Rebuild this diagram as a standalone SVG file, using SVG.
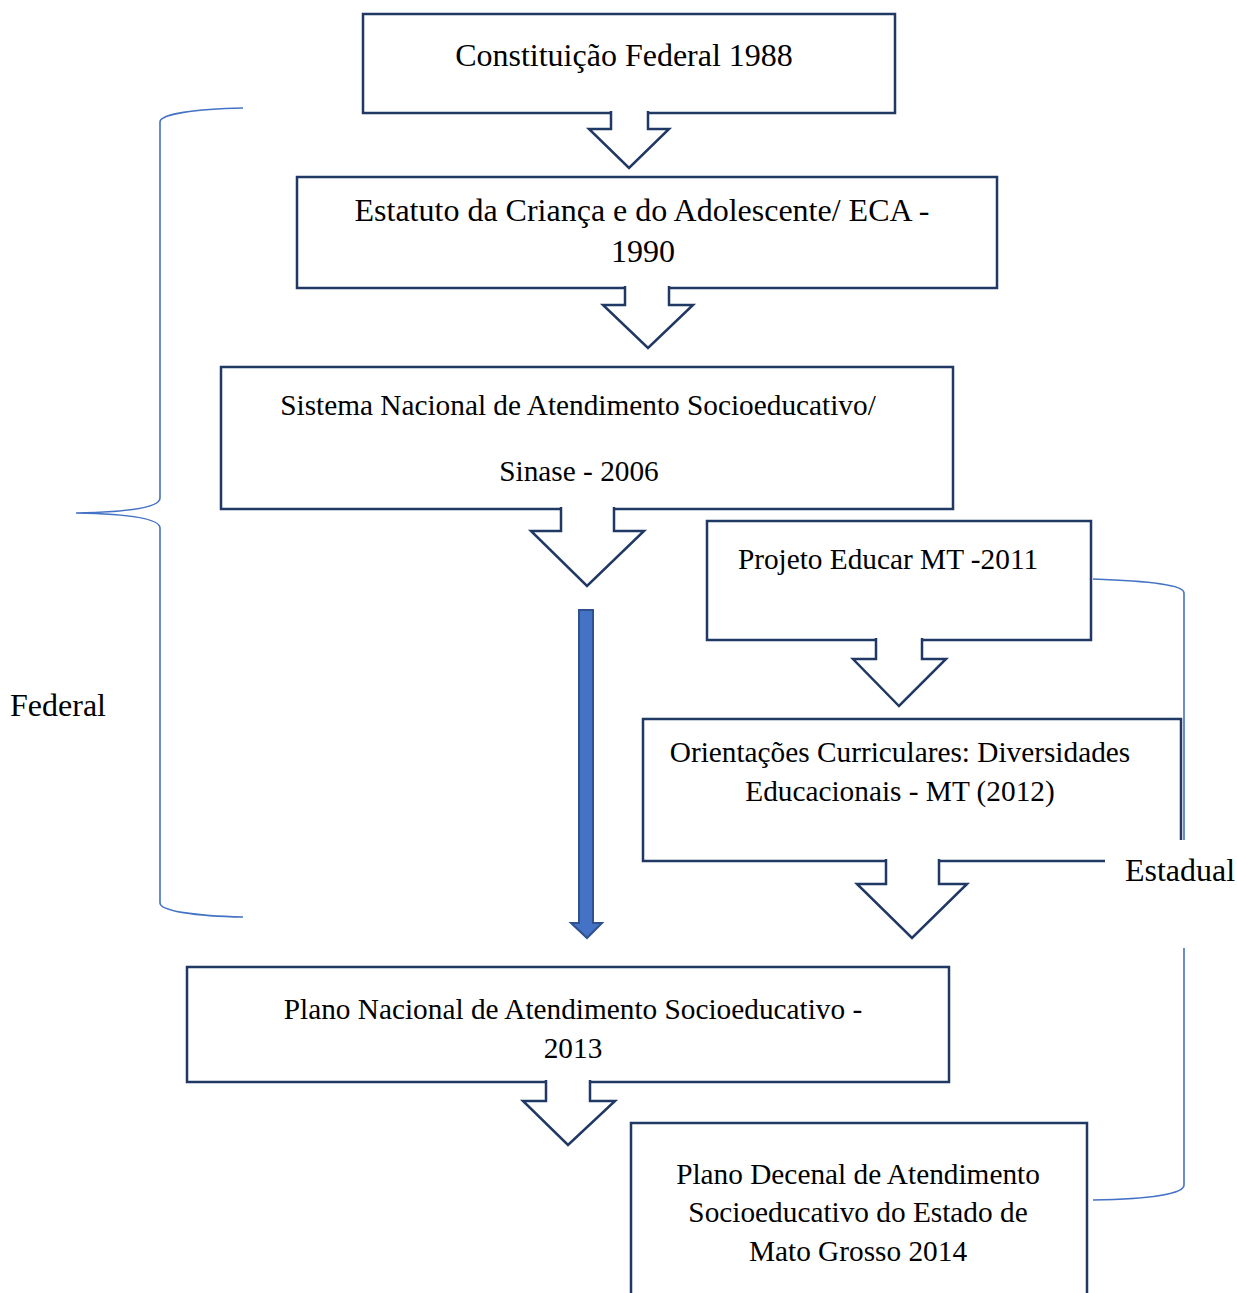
<svg xmlns="http://www.w3.org/2000/svg" width="1237" height="1293" viewBox="0 0 1237 1293">
<style>
.box{fill:#fff;stroke:#203864;stroke-width:2.5}
.arr{fill:#fff;stroke:#203864;stroke-width:2.5;stroke-linejoin:miter}
.brace{fill:none;stroke:#4472C4;stroke-width:1.6}
text{font-family:"Liberation Serif","Times New Roman",serif;fill:#000;text-anchor:middle}
.t32{font-size:32px}
.t29{font-size:29.3px}
</style>
<rect width="1237" height="1293" fill="#fff"/>
<g id="nodes">
<g id="n1"><rect class="box" x="363" y="14" width="532" height="99"/><text class="t32" x="624" y="66">Constituição Federal 1988</text></g>
<g id="n2"><rect class="box" x="297" y="177" width="700" height="111"/><text class="t32" x="642" y="221">Estatuto da Criança e do Adolescente/ ECA -</text><text class="t32" x="643" y="262">1990</text></g>
<g id="n3"><rect class="box" x="221" y="367" width="732" height="142"/><text class="t29" x="578" y="415">Sistema Nacional de Atendimento Socioeducativo/</text><text class="t29" x="579" y="481">Sinase - 2006</text></g>
<g id="n4"><rect class="box" x="707" y="521" width="384" height="119"/><text class="t29" x="888" y="569">Projeto Educar MT -2011</text></g>
<g id="n5"><path class="box" d="M1105,861 L643,861 L643,719 L1181,719 L1181,840" fill="#fff"/><text class="t29" x="900" y="762">Orientações Curriculares: Diversidades</text><text class="t29" x="900" y="801">Educacionais - MT (2012)</text></g>
<g id="n6"><rect class="box" x="187" y="967" width="762" height="115"/><text class="t29" x="573" y="1019">Plano Nacional de Atendimento Socioeducativo -</text><text class="t29" x="573" y="1058">2013</text></g>
<g id="n7"><path class="box" d="M631,1300 L631,1123 L1087,1123 L1087,1300"/><text class="t29" x="858" y="1184">Plano Decenal de Atendimento</text><text class="t29" x="858" y="1222">Socioeducativo do Estado de</text><text class="t29" x="858" y="1261">Mato Grosso 2014</text></g>
</g>
<g id="connectors">
<path class="arr" d="M611,111 L611,129 L589,129 L629,168 L669,129 L648,129 L648,111"/>
<path class="arr" d="M625,286 L625,305 L603,305 L648,348 L693,305 L669,305 L669,286"/>
<path class="arr" d="M561,507 L561,531 L531,531 L587,586 L644,531 L614,531 L614,507"/>
<path d="M579,610 L593,610 L593,923 L602,923 L587,938 L571,923 L579,923 Z" fill="#4472C4" stroke="#2F528F" stroke-width="2"/>
<path class="arr" d="M876,638 L876,659 L853,659 L899,706 L946,659 L922,659 L922,638"/>
<path class="arr" d="M886,859 L886,884 L857,884 L912,938 L967,884 L939,884 L939,859"/>
<path class="arr" d="M546,1080 L546,1101 L523,1101 L568,1145 L615,1101 L590,1101 L590,1080"/>
</g>
<g id="brackets">
<path class="brace" d="M243,108 C195,109 160,114 160,122 L160,498 C160,507 130,512 76,513 C130,514 160,519 160,528 L160,903 C160,911 195,916 243,917"/>
<path class="brace" d="M1093,579 C1150,581 1184,585 1184,593 L1184,840 M1184,948 L1184,1185 C1184,1194 1150,1199 1093,1200"/>
<text class="t32" x="58" y="716">Federal</text>
<text class="t32" x="1180" y="881">Estadual</text>
</g>
</svg>
